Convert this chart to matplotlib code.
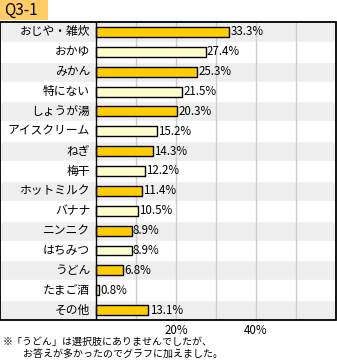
import matplotlib
matplotlib.use("Agg")
import matplotlib.pyplot as plt
from matplotlib.patches import Rectangle

plt.rcParams['font.family'] = ['Noto Sans CJK JP', 'DejaVu Sans']

categories = ["おじや・雑炊", "おかゆ", "みかん", "特にない", "しょうが湯", "アイスクリーム",
              "ねぎ", "梅干", "ホットミルク", "バナナ", "ニンニク", "はちみつ", "うどん",
              "たまご酒", "その他"]
values = [33.3, 27.4, 25.3, 21.5, 20.3, 15.2, 14.3, 12.2, 11.4, 10.5, 8.9, 8.9, 6.8, 0.8, 13.1]
tick_values = [20, 40]
tick_labels = ["20%", "40%"]
title = "Q3-1"
note_lines = ["※「うどん」は選択肢にありませんでしたが、", "　お答えが多かったのでグラフに加えました。"]

W, H = 337, 362
fig = plt.figure(figsize=(W / 100, H / 100), dpi=100)

x_left_px, x_zero_px, x_right_px = 0, 96, 336
top_px, bot_px = 22, 320
px_per_unit = 4.0  # 10% = 40 px
xmin = -(x_zero_px - x_left_px) / px_per_unit
xmax = (x_right_px - x_zero_px) / px_per_unit
ax = fig.add_axes([x_left_px / W, 1 - bot_px / H, (x_right_px - x_left_px) / W, (bot_px - top_px) / H])
nrows = len(categories)
ax.set_xlim(xmin, xmax)
ax.set_ylim(nrows - 0.5, -0.5)
ax.axis('off')

gold = "#FFCC00"
pale = "#FFFFCC"
for i in range(nrows):
    if i % 2 == 0:
        ax.add_patch(Rectangle((xmin, i - 0.5), xmax - xmin, 1.0, facecolor="#EEEEEE", edgecolor="none", zorder=0))
    ax.plot([xmin, xmax], [i - 0.5, i - 0.5], color="white", lw=1.0, zorder=0.5)

for gx in range(10, 60, 10):
    ax.plot([gx, gx], [-0.5, nrows - 0.5], color="#CCCCCC", lw=1.0, zorder=1)

colors = [gold if i % 2 == 0 else pale for i in range(nrows)]
ax.barh(range(nrows), values, height=0.5, color=colors, edgecolor="black", linewidth=1.0, zorder=2)

for i, (c, v) in enumerate(zip(categories, values)):
    ax.text(-1.5, i, c, ha="right", va="center", fontsize=8.5, zorder=3)
    ax.text(v + 0.3, i, f"{v:.1f}%", ha="left", va="center", fontsize=8.3, zorder=3)

ax.add_patch(Rectangle((xmin, -0.5), xmax - xmin, nrows, facecolor="none", edgecolor="black", lw=1.3, zorder=4, clip_on=False))
ax.plot([0, 0], [-0.5, nrows - 0.5], color="black", lw=1.0, zorder=4)

for tv, tl in zip(tick_values, tick_labels):
    ax.text(tv, nrows - 0.5 + 0.2, tl, ha="center", va="top", fontsize=8.3, clip_on=False)

fig.patches.append(Rectangle((0, 1 - 20 / H), 48 / W, 20 / H, transform=fig.transFigure,
                             facecolor="#FFCC66", edgecolor="none"))
fig.text(4 / W, 1 - 10.5 / H, title, ha="left", va="center", fontsize=11)

fig.text(3 / W, 1 - 342 / H, note_lines[0], ha="left", va="center", fontsize=7.2)
fig.text(13 / W, 1 - 354 / H, note_lines[1], ha="left", va="center", fontsize=7.2)

fig.savefig("out.png", dpi=100)
